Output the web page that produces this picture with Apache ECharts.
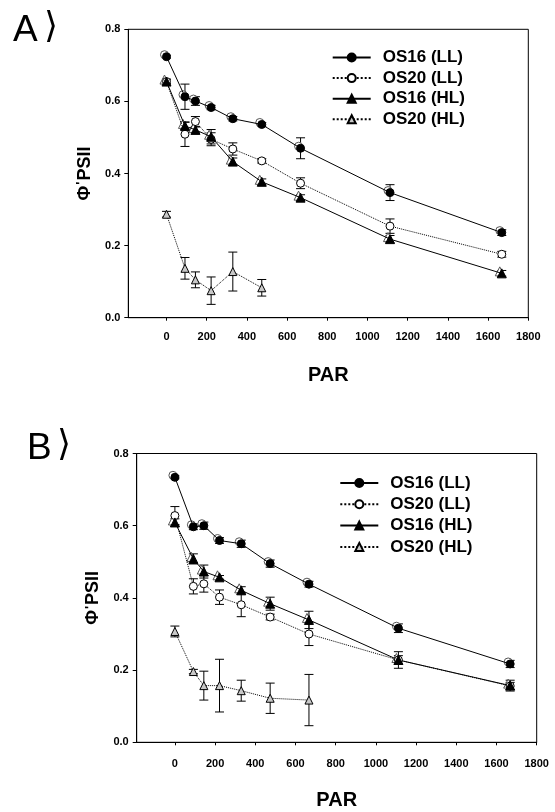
<!DOCTYPE html>
<html>
<head>
<meta charset="utf-8">
<script src="https://cdn.jsdelivr.net/npm/echarts@6/dist/echarts.min.js"></script>
<style>
html,body{margin:0;padding:0;background:#fff;}
#chart{width:555px;height:812px;}
</style>
</head>
<body>
<div id="chart"></div>
<script>
// ---- data ----
const parX = [0, 92, 144, 222, 330, 474, 667, 1112, 1668];
const xTicks = [0, 200, 400, 600, 800, 1000, 1200, 1400, 1600, 1800];
const seriesNames = ['OS16 (LL)', 'OS20 (LL)', 'OS16 (HL)', 'OS20 (HL)'];

// Panel A
const aOS16LL = [0.724, 0.613, 0.601, 0.583, 0.552, 0.536, 0.470, 0.347, 0.236];
const aOS16LLerr = [0.004, 0.035, 0.012, 0.006, 0.006, 0.005, 0.029, 0.022, 0.008];
const aOS20LL = [0.655, 0.509, 0.544, 0.495, 0.468, 0.435, 0.373, 0.254, 0.176];
const aOS20LLerr = [0.005, 0.034, 0.014, 0.018, 0.017, 0.006, 0.015, 0.020, 0.008];
const aOS16HL = [0.655, 0.532, 0.521, 0.502, 0.433, 0.377, 0.333, 0.218, 0.123];
const aOS16HLerr = [0.007, 0.010, 0.008, 0.020, 0.010, 0.008, 0.008, 0.010, 0.008];
const aOS20HL = [0.287, 0.137, 0.105, 0.075, 0.128, 0.083];
const aOS20HLerr = [0.008, 0.030, 0.022, 0.038, 0.054, 0.023];

// Panel B
const bOS16LL = [0.734, 0.597, 0.600, 0.559, 0.550, 0.495, 0.438, 0.316, 0.217];
const bOS16LLerr = [0.004, 0.008, 0.010, 0.008, 0.010, 0.010, 0.008, 0.012, 0.010];
const bOS20LL = [0.628, 0.432, 0.439, 0.402, 0.381, 0.347, 0.300, 0.228, 0.156];
const bOS20LLerr = [0.025, 0.021, 0.023, 0.020, 0.033, 0.008, 0.032, 0.012, 0.010];
const bOS16HL = [0.609, 0.508, 0.473, 0.457, 0.421, 0.384, 0.339, 0.228, 0.157];
const bOS16HLerr = [0.010, 0.014, 0.018, 0.005, 0.010, 0.018, 0.024, 0.023, 0.015];
const bOS20HL = [0.307, 0.196, 0.157, 0.157, 0.143, 0.122, 0.117];
const bOS20HLerr = [0.015, 0.006, 0.040, 0.073, 0.029, 0.042, 0.071];

// ---- styles ----
const FONT = '"Liberation Sans", Arial, sans-serif';
const styles = [
  {symbol: 'circle', symbolSize: 8, line: 'solid', fill: '#000'},
  {symbol: 'circle', symbolSize: 8, line: 'dotted', fill: '#fff'},
  {symbol: 'triangle', symbolSize: 9, line: 'solid', fill: '#000'},
  {symbol: 'triangle', symbolSize: 8, line: 'dotted', fill: '#c8c8c8'}
];

function pts(ys) { return ys.map((y, i) => [parX[i], y]); }
function errPts(ys, es) { return ys.map((y, i) => [parX[i], y, es[i]]); }

function lineSeries(idx, ys, g) {
  const s = styles[idx];
  return {
    name: seriesNames[idx], type: 'line', xAxisIndex: g, yAxisIndex: g,
    data: pts(ys), symbol: s.symbol, symbolSize: s.symbolSize,
    showAllSymbol: true, animation: false, z: 3,
    lineStyle: {color: '#000', width: 1, type: s.line},
    itemStyle: {color: s.fill, borderColor: '#000', borderWidth: 1}
  };
}
// light outline "halo" offset up-left, as in the original rendering of the filled markers
function haloSeries(idx, ys, g) {
  const s = styles[idx];
  return {
    type: 'line', xAxisIndex: g, yAxisIndex: g, silent: true,
    data: pts(ys), symbol: s.symbol, symbolSize: s.symbolSize, symbolOffset: [-2, -2],
    showAllSymbol: true, animation: false, z: 2.5,
    lineStyle: {opacity: 0},
    itemStyle: {color: '#fff', borderColor: '#555', borderWidth: 1}
  };
}
function errSeries(ys, es, g) {
  return {
    type: 'custom', xAxisIndex: g, yAxisIndex: g, animation: false, z: 2,
    data: errPts(ys, es), silent: true,
    renderItem: function (params, api) {
      const x = api.value(0), y = api.value(1), e = api.value(2);
      const t = api.coord([x, y + e]);
      const b = api.coord([x, y - e]);
      const hw = 4.5;
      const st = {stroke: '#000', lineWidth: 1};
      return {type: 'group', children: [
        {type: 'line', shape: {x1: t[0], y1: t[1], x2: b[0], y2: b[1]}, style: st},
        {type: 'line', shape: {x1: t[0] - hw, y1: t[1], x2: t[0] + hw, y2: t[1]}, style: st},
        {type: 'line', shape: {x1: b[0] - hw, y1: b[1], x2: b[0] + hw, y2: b[1]}, style: st}
      ]};
    }
  };
}

function xAxisCfg(g, margin) {
  return {
    gridIndex: g, type: 'value', min: -190, max: 1800,
    name: 'PAR', nameLocation: 'middle', nameGap: 48,
    nameTextStyle: {fontFamily: FONT, fontSize: 20, fontWeight: 'bold', color: '#000'},
    axisLine: {show: true, onZero: false, lineStyle: {color: '#000', width: 1}},
    axisTick: {show: true, inside: false, length: 3, customValues: xTicks, lineStyle: {color: '#000'}},
    axisLabel: {customValues: xTicks, margin: margin, fontFamily: FONT, fontSize: 11, fontWeight: 'bold', color: '#000',
      formatter: v => String(v)},
    splitLine: {show: false}
  };
}
function yAxisCfg(g) {
  return {
    gridIndex: g, type: 'value', min: 0, max: 0.8, interval: 0.2,
    name: '{a|Φ}{b|\'}{c|PSII}', nameLocation: 'middle', nameGap: 34, nameRotate: 90,
    nameTextStyle: {fontFamily: FONT, fontWeight: 'bold', color: '#000',
      rich: {
        a: {fontFamily: FONT, fontSize: 18, fontWeight: 'bold', color: '#000'},
        b: {fontFamily: FONT, fontSize: 13, fontWeight: 'bold', color: '#000', verticalAlign: 'top', padding: [0, 1, 6, 1]},
        c: {fontFamily: FONT, fontSize: 18, fontWeight: 'bold', color: '#000'}
      }},
    axisLine: {show: true, onZero: false, lineStyle: {color: '#000', width: 1}},
    axisTick: {show: true, inside: false, length: 4, lineStyle: {color: '#000'}},
    axisLabel: {margin: 8, fontFamily: FONT, fontSize: 11, fontWeight: 'bold', color: '#000',
      formatter: v => v.toFixed(1)},
    splitLine: {show: false}
  };
}
function legendCfg(left, top, gap) {
  return {
    data: seriesNames, orient: 'vertical', left: left, top: top, padding: 0,
    itemWidth: 38, itemHeight: 10, itemGap: gap, selectedMode: false,
    textStyle: {fontFamily: FONT, fontSize: 17, fontWeight: 'bold', color: '#000',
      lineHeight: 18, padding: [0, 0, 0, 7]}
  };
}

const chart = echarts.init(document.getElementById('chart'), null, {renderer: 'canvas'});
chart.setOption({
  backgroundColor: '#fff',
  animation: false,
  grid: [
    {left: 128.3, top: 29.3, width: 400, height: 288.4, show: true, borderColor: '#000', borderWidth: 1, containLabel: false},
    {left: 136.7, top: 453.5, width: 400, height: 288.8, show: true, borderColor: '#000', borderWidth: 1, containLabel: false}
  ],
  xAxis: [xAxisCfg(0, 14), xAxisCfg(1, 16)],
  yAxis: [yAxisCfg(0), yAxisCfg(1)],
  legend: [legendCfg(331.7, 48.5, 2.6), legendCfg(339.3, 474, 3.3)],
  graphic: [
    {type: 'text', left: 13, top: 12, style: {text: 'A', font: '37px ' + FONT, fill: '#000'}},
    {type: 'text', left: 44, top: 10, style: {text: '⟩', font: '36px "DejaVu Sans"', fill: '#000'}},
    {type: 'text', left: 27, top: 430, style: {text: 'B', font: '37px ' + FONT, fill: '#000'}},
    {type: 'text', left: 57, top: 428, style: {text: '⟩', font: '36px "DejaVu Sans"', fill: '#000'}}
  ],
  series: [
    errSeries(aOS16LL, aOS16LLerr, 0),
    errSeries(aOS20LL, aOS20LLerr, 0),
    errSeries(aOS16HL, aOS16HLerr, 0),
    errSeries(aOS20HL, aOS20HLerr, 0),
    haloSeries(0, aOS16LL, 0),
    haloSeries(2, aOS16HL, 0),
    lineSeries(0, aOS16LL, 0),
    lineSeries(1, aOS20LL, 0),
    lineSeries(2, aOS16HL, 0),
    lineSeries(3, aOS20HL, 0),
    errSeries(bOS16LL, bOS16LLerr, 1),
    errSeries(bOS20LL, bOS20LLerr, 1),
    errSeries(bOS16HL, bOS16HLerr, 1),
    errSeries(bOS20HL, bOS20HLerr, 1),
    haloSeries(0, bOS16LL, 1),
    haloSeries(2, bOS16HL, 1),
    lineSeries(0, bOS16LL, 1),
    lineSeries(1, bOS20LL, 1),
    lineSeries(2, bOS16HL, 1),
    lineSeries(3, bOS20HL, 1)
  ]
});
</script>
</body>
</html>
